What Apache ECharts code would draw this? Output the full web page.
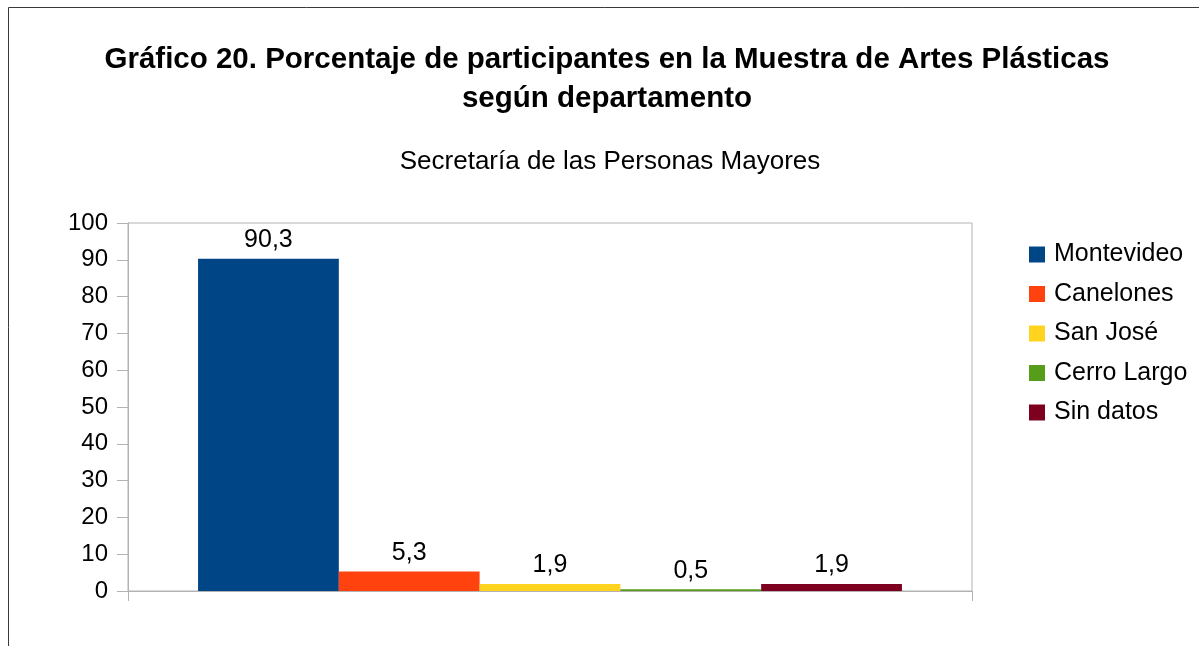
<!DOCTYPE html>
<html>
<head>
<meta charset="utf-8">
<script src="https://cdn.jsdelivr.net/npm/echarts@6/dist/echarts.min.js"></script>
<style>
  html, body { margin: 0; padding: 0; background: #fff; }
  #chart { width: 1199px; height: 646px; }
</style>
</head>
<body>
<div id="chart"></div>
<script>
// data
var departamentos = ['Montevideo', 'Canelones', 'San José', 'Cerro Largo', 'Sin datos'];
var porcentajes = [90.3, 5.3, 1.9, 0.5, 1.9];
var colores = ['#004586', '#ff420e', '#ffd320', '#579d1c', '#7e0021'];

var fuente = '"Liberation Sans", Arial, sans-serif';
var gris = '#b3b3b3';

var chart = echarts.init(document.getElementById('chart'));

// one series per department, all in the same (empty) category
var series = departamentos.map(function (nombre, i) {
    return {
        name: nombre,
        type: 'bar',
        data: [porcentajes[i]],
        barGap: '0%',
        barCategoryGap: '16.6%',
        itemStyle: { color: colores[i] },
        label: {
            show: true,
            position: 'top',
            distance: 6,
            color: '#000',
            fontFamily: fuente,
            fontSize: 25,
            formatter: function (p) {
                return String(p.value).replace('.', ',');
            }
        }
    };
});

var option = {
    animation: false,
    backgroundColor: '#fff',
    graphic: [{
        type: 'rect',
        shape: { x: 8.5, y: 7.5, width: 1300, height: 800 },
        style: { fill: 'none', stroke: '#3a3a3a', lineWidth: 1 },
        silent: true
    }],
    title: [{
        text: 'Gráfico 20. Porcentaje de participantes en la Muestra de Artes Plásticas\nsegún departamento',
        left: 602,
        textAlign: 'center',
        top: 35,
        textStyle: {
            fontFamily: fuente,
            fontWeight: 'bold',
            fontSize: 29.5,
            lineHeight: 39,
            color: '#000'
        }
    }, {
        text: 'Secretaría de las Personas Mayores',
        left: 605,
        textAlign: 'center',
        top: 144,
        textStyle: {
            fontFamily: fuente,
            fontWeight: 'normal',
            fontSize: 26,
            color: '#000'
        }
    }],
    legend: {
        orient: 'vertical',
        left: 1029,
        top: 242,
        padding: 0,
        itemWidth: 16,
        itemHeight: 16,
        itemGap: 14.5,
        icon: 'rect',
        data: departamentos,
        textStyle: {
            fontFamily: fuente,
            fontSize: 25,
            lineHeight: 24,
            color: '#000',
            padding: [0, 0, 0, 4]
        }
    },
    grid: {
        left: 128,
        right: 227,
        top: 223,
        bottom: 55,
        show: true,
        borderColor: gris,
        borderWidth: 1,
        backgroundColor: 'transparent'
    },
    xAxis: {
        type: 'category',
        data: [''],
        axisLine: { lineStyle: { color: gris } },
        axisTick: { show: true, length: 10, lineStyle: { color: gris } },
        axisLabel: { show: false },
        splitLine: { show: false }
    },
    yAxis: {
        type: 'value',
        min: 0,
        max: 100,
        interval: 10,
        axisLine: { show: true, lineStyle: { color: gris } },
        axisTick: { show: true, length: 11, lineStyle: { color: gris } },
        axisLabel: {
            margin: 20,
            color: '#000',
            fontFamily: fuente,
            fontSize: 24
        },
        splitLine: { show: false }
    },
    series: series
};

chart.setOption(option);
</script>
</body>
</html>
